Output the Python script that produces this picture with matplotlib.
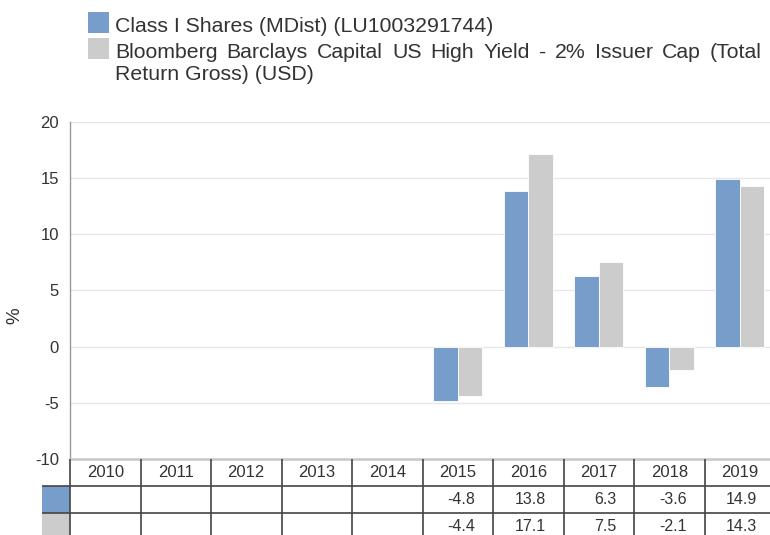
import matplotlib
matplotlib.use("Agg")
import matplotlib.pyplot as plt
import numpy as np

plt.rcParams["font.family"] = ["Liberation Sans", "DejaVu Sans"]

YEARS = ["2010", "2011", "2012", "2013", "2014", "2015", "2016", "2017", "2018", "2019"]
FUND = [np.nan, np.nan, np.nan, np.nan, np.nan, -4.8, 13.8, 6.3, -3.6, 14.9]
BENCH = [np.nan, np.nan, np.nan, np.nan, np.nan, -4.4, 17.1, 7.5, -2.1, 14.3]
FUND_LABEL = "Class I Shares (MDist) (LU1003291744)"
BENCH_LABEL_1 = "Bloomberg Barclays Capital US High Yield - 2% Issuer Cap (Total"
BENCH_LABEL_2 = "Return Gross) (USD)"
Y_TICKS = [-10, -5, 0, 5, 10, 15, 20]

BLUE = "#779ecb"
GREY = "#cccccc"
TEXT = "#333333"
LEG_FS = 15.3

W, H = 770, 535
fig = plt.figure(figsize=(W / 100, H / 100), dpi=100)


def box(left, top, right, bottom):
    # pixel box -> figure fraction rect
    return [left / W, 1 - bottom / H, (right - left) / W, (bottom - top) / H]


CAT_W = 70.5
PLOT_L, PLOT_R = 70, 70 + CAT_W * len(YEARS)
PLOT_T, PLOT_B = 121.7, 459

ax = fig.add_axes(box(PLOT_L, PLOT_T, PLOT_R, PLOT_B))
x = np.arange(len(YEARS))
ax.bar(x - 0.175, FUND, width=0.345, color=BLUE, edgecolor="white", linewidth=0.6, zorder=3)
ax.bar(x + 0.175, BENCH, width=0.345, color=GREY, edgecolor="white", linewidth=0.6, zorder=3)
ax.set_xlim(-0.5, len(YEARS) - 0.5)
ax.set_ylim(-10, 20)
ax.set_yticks(Y_TICKS)
ax.set_yticklabels([str(t) for t in Y_TICKS], fontsize=12, color=TEXT)
ax.set_xticks([])
ax.tick_params(axis="y", length=0, pad=8)
ax.grid(axis="y", color="#e6e6e6", linewidth=1, zorder=0)
for s in ["top", "right"]:
    ax.spines[s].set_visible(False)
ax.spines["left"].set_color("#999999")
ax.spines["left"].set_linewidth(1)
ax.spines["bottom"].set_color("#cccccc")
ax.spines["bottom"].set_linewidth(2)
ax.spines["bottom"].set_zorder(4)

fig.text(15 / W, 1 - 316 / H, "%", rotation=90, fontsize=13.5, color=TEXT,
         ha="center", va="center")

# data table under the chart
SW = 28
axt = fig.add_axes(box(PLOT_L - SW, PLOT_B, PLOT_R, PLOT_B + 81))
axt.set_xlim(-0.5 - SW / CAT_W, len(YEARS) - 0.5)
axt.set_ylim(3, 0)
axt.axis("off")
x0 = -0.5 - SW / CAT_W
axt.fill_between([x0, -0.5], 1, 2, color=BLUE, linewidth=0)
axt.fill_between([x0, -0.5], 2, 3, color=GREY, linewidth=0)
for k in range(len(YEARS) + 1):
    axt.plot([k - 0.5, k - 0.5], [0, 3], color="#444444", linewidth=1.2, solid_capstyle="butt")
for r in [1, 2]:
    axt.plot([x0, len(YEARS) - 0.5], [r, r], color="#444444", linewidth=1.2, solid_capstyle="butt")
for i, yr in enumerate(YEARS):
    axt.text(i, 0.5, yr, ha="center", va="center", fontsize=12, color=TEXT)
    for r, vals in [(1.5, FUND), (2.5, BENCH)]:
        if not np.isnan(vals[i]):
            axt.text(i + 0.25, r, f"{vals[i]:.1f}", ha="right", va="center",
                     fontsize=11.5, color=TEXT)

# legend
for top, col in [(12, BLUE), (38, GREY)]:
    fig.patches.append(plt.Rectangle((88 / W, 1 - (top + 21) / H), 21 / W, 21 / H,
                                     transform=fig.transFigure, color=col, linewidth=0))
fig.text(115 / W, 1 - 32.3 / H, FUND_LABEL, fontsize=LEG_FS, color=TEXT, va="baseline")
fig.text(115 / W, 1 - 80 / H, BENCH_LABEL_2, fontsize=LEG_FS, color=TEXT, va="baseline")

# justified first line of the benchmark label
renderer = fig.canvas.get_renderer()
words = BENCH_LABEL_1.split(" ")
pieces = [fig.text(0, 1 - 57.7 / H, w, fontsize=LEG_FS, color=TEXT, va="baseline") for w in words]
widths = [p.get_window_extent(renderer).width for p in pieces]
gap = (762 - 115 - sum(widths)) / (len(words) - 1)
pos = 115
for p, w in zip(pieces, widths):
    p.set_x(pos / W)
    pos += w + gap

fig.savefig("out.png", dpi=100)
